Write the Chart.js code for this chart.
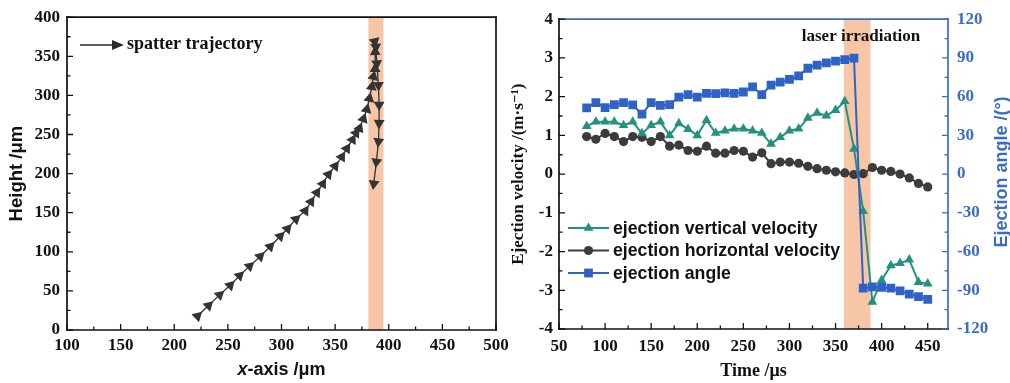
<!DOCTYPE html>
<html>
<head>
<meta charset="utf-8">
<script src="https://cdn.jsdelivr.net/npm/chart.js@4.4.0/dist/chart.umd.min.js"></script>
<style>
  html, body { margin: 0; padding: 0; background: #fff; }
  #wrap { position: relative; width: 1010px; height: 383px; overflow: hidden; }
  #trajChart { position: absolute; left: 0; top: 0; }
  #velChart { position: absolute; left: 505px; top: 0; }
</style>
</head>
<body>
<div id="wrap">
  <canvas id="trajChart" width="515" height="383"></canvas>
  <canvas id="velChart" width="505" height="383"></canvas>
</div>
<script>

// ---------------- DATA ----------------

// left: spatter trajectory (x /um, height /um)
const trajX = [221.7, 232.0, 242.3, 252.2, 260.9, 270.2, 280.1, 289.5, 298.8, 305.6,
  313.4, 322.1, 327.5, 333.0, 338.5, 343.8, 350.0, 356.2, 360.9, 366.2,
  369.6, 372.7, 376.4, 379.5, 382.0, 384.2, 385.7, 387.3, 387.3, 386.9,
  388.0, 388.9, 390.4, 391.0, 391.0, 390.4, 388.5, 386.0];
const trajY = [17.8, 31.3, 44.9, 57.1, 69.4, 81.7, 94.0, 106.7, 119.8, 129.5,
  141.8, 152.4, 164.0, 175.7, 187.0, 199.0, 209.5, 221.4, 232.0, 243.4,
  251.9, 258.0, 270.0, 282.0, 296.0, 311.0, 324.0, 334.0, 355.6, 369.0,
  362.0, 340.8, 313.0, 288.0, 264.6, 241.0, 215.0, 187.0];
const trajXTicks = [100, 150, 200, 250, 300, 350, 400, 450, 500];
const trajYTicks = [0, 50, 100, 150, 200, 250, 300, 350, 400];
const trajBand = [381, 395];

// right: ejection velocities and angle vs time
const timeUs = [80, 90, 100, 110, 120, 130, 140, 150, 160, 170,
  180, 190, 200, 210, 220, 230, 240, 250, 260, 270,
  280, 290, 300, 310, 320, 330, 340, 350, 360, 370,
  380, 390, 400, 410, 420, 430, 440, 450];
const vertVel = [1.24, 1.35, 1.35, 1.35, 1.26, 1.35, 1.05, 1.26, 1.35, 1.00,
  1.31, 1.16, 1.00, 1.39, 1.06, 1.12, 1.17, 1.17, 1.12, 1.06,
  0.78, 0.95, 1.12, 1.17, 1.45, 1.58, 1.51, 1.65, 1.88, 0.65,
  -0.96, -3.30, -2.74, -2.36, -2.30, -2.21, -2.79, -2.83];
const horizVel = [0.97, 0.90, 1.05, 0.97, 0.84, 0.97, 0.95, 0.84, 0.97, 0.72,
  0.75, 0.61, 0.59, 0.72, 0.54, 0.54, 0.61, 0.59, 0.44, 0.55,
  0.27, 0.31, 0.31, 0.28, 0.20, 0.14, 0.10, 0.06, 0.03, -0.01,
  0.01, 0.17, 0.10, 0.07, 0.00, -0.10, -0.24, -0.33];
const ejectAngle = [51.3, 55.4, 51.5, 53.8, 55.4, 53.6, 46.4, 55.4, 53.3, 53.8,
  59.7, 61.5, 59.7, 62.5, 62.3, 63.0, 62.5, 63.6, 67.6, 61.5,
  68.9, 71.2, 73.3, 76.1, 82.0, 84.5, 86.1, 87.6, 88.6, 89.9,
  -88.4, -87.3, -87.8, -88.4, -90.4, -93.0, -95.0, -97.0];
const timeTicks = [50, 100, 150, 200, 250, 300, 350, 400, 450];
const velTicks = [-4, -3, -2, -1, 0, 1, 2, 3, 4];
const angleTicks = [-120, -90, -60, -30, 0, 30, 60, 90, 120];
const timeBand = [359, 388];

const legendLabels = ["ejection vertical velocity", "ejection horizontal velocity", "ejection angle"];


// ---------------- STYLE ----------------

const TEAL = "#23917f";
const GREY = "#3c3c3c";
const BLUE = "#2f62c6";
const AXIS_BLUE = "#3a6cc4";
const BAND = "#f6c6a6";
const SERIF = "'Liberation Serif', 'DejaVu Serif', serif";
const SANS = "'Liberation Sans', Arial, sans-serif";

Chart.defaults.animation = false;
Chart.defaults.plugins.legend.display = false;
Chart.defaults.plugins.tooltip.enabled = false;
Chart.defaults.events = [];


// ---------------- HELPERS ----------------

function fixSize(w, h) {
  return s => {
    if (w != null) s.width = w;
    if (h != null) s.height = h;
  };
}

function useTicks(list) {
  return s => { s.ticks = list.map(v => ({ value: v })); };
}

// shaded laser band
const bandPlugin = {
  id: "band",
  beforeDatasetsDraw(chart, args, opts) {
    const { ctx, chartArea: a } = chart;
    const x0 = chart.scales.x.getPixelForValue(opts.range[0]);
    const x1 = chart.scales.x.getPixelForValue(opts.range[1]);
    ctx.save();
    ctx.fillStyle = BAND;
    ctx.fillRect(x0, a.top, x1 - x0, a.bottom - a.top);
    ctx.restore();
  }
};

// box frame plus inward major/minor ticks
const frameTicks = {
  id: "frameTicks",
  afterDatasetsDraw(chart, args, opts) {
    const { ctx, chartArea: a } = chart;
    ctx.save();
    ctx.lineWidth = 1.7;
    ctx.lineCap = "square";

    const sides = {
      top: [a.left, a.top, a.right, a.top],
      right: [a.right, a.top, a.right, a.bottom],
      bottom: [a.left, a.bottom, a.right, a.bottom],
      left: [a.left, a.top, a.left, a.bottom]
    };
    for (const k in sides) {
      const p = sides[k];
      ctx.strokeStyle = opts.frame[k];
      ctx.beginPath();
      ctx.moveTo(p[0], p[1]);
      ctx.lineTo(p[2], p[3]);
      ctx.stroke();
    }

    ctx.lineWidth = 1.3;
    ctx.lineCap = "butt";
    opts.axes.forEach(ax => {
      const s = chart.scales[ax.id];
      ctx.strokeStyle = opts.frame[ax.side];
      ctx.beginPath();
      for (let v = ax.from; v <= s.max + 1e-9; v += ax.minor) {
        const r = v / ax.major;
        const len = Math.abs(r - Math.round(r)) < 1e-6 ? 6 : 3.5;
        const p = s.getPixelForValue(v);
        if (ax.side === "bottom") { ctx.moveTo(p, a.bottom); ctx.lineTo(p, a.bottom - len); }
        if (ax.side === "left") { ctx.moveTo(a.left, p); ctx.lineTo(a.left + len, p); }
        if (ax.side === "right") { ctx.moveTo(a.right, p); ctx.lineTo(a.right - len, p); }
      }
      ctx.stroke();
    });
    ctx.restore();
  }
};

// triangles point along the direction of travel
function arrowRotation(c) {
  const chart = c.chart;
  const xs = chart.scales.x, ys = chart.scales.y;
  const i = c.dataIndex < trajX.length - 1 ? c.dataIndex : c.dataIndex - 1;
  const dx = xs.getPixelForValue(trajX[i + 1]) - xs.getPixelForValue(trajX[i]);
  const dy = ys.getPixelForValue(trajY[i + 1]) - ys.getPixelForValue(trajY[i]);
  return Math.atan2(dx, -dy) * 180 / Math.PI;
}


// ---------------- TRAJECTORY CHART ----------------

const trajDecor = {
  id: "trajDecor",
  afterDraw(chart) {
    const ctx = chart.ctx;
    ctx.save();

    // legend arrow
    ctx.strokeStyle = "#2a2a2a";
    ctx.fillStyle = "#2a2a2a";
    ctx.lineWidth = 1.5;
    ctx.beginPath();
    ctx.moveTo(80, 45);
    ctx.lineTo(114, 45);
    ctx.stroke();
    ctx.beginPath();
    ctx.moveTo(124, 45);
    ctx.lineTo(112, 40);
    ctx.lineTo(112, 50);
    ctx.closePath();
    ctx.fill();

    ctx.fillStyle = "#111";
    ctx.font = "bold 18px " + SERIF;
    ctx.textBaseline = "middle";
    ctx.fillText("spatter trajectory", 127, 44);

    // x-axis title with italic x
    const cx = (chart.chartArea.left + chart.chartArea.right) / 2;
    ctx.font = "italic bold 18px " + SANS;
    const w1 = ctx.measureText("x").width;
    ctx.font = "bold 18px " + SANS;
    const w2 = ctx.measureText("-axis /\u03bcm").width;
    let x = cx - (w1 + w2) / 2;
    ctx.font = "italic bold 18px " + SANS;
    ctx.fillText("x", x, 370);
    ctx.font = "bold 18px " + SANS;
    ctx.fillText("-axis /\u03bcm", x + w1, 370);

    ctx.restore();
  }
};

new Chart(document.getElementById("trajChart"), {
  type: "scatter",
  data: {
    datasets: [{
      data: trajX.map((x, i) => ({ x: x, y: trajY[i] })),
      showLine: true,
      borderColor: "#333",
      borderWidth: 1.3,
      backgroundColor: "#333",
      pointStyle: "triangle",
      pointRadius: 6.3,
      pointBorderWidth: 0,
      pointRotation: arrowRotation
    }]
  },
  options: {
    responsive: false,
    layout: { padding: { left: 0, right: 19, top: 15, bottom: 0 } },
    scales: {
      x: {
        type: "linear",
        min: 100,
        max: 500,
        afterBuildTicks: useTicks(trajXTicks),
        afterFit: fixSize(null, 53),
        grid: { display: false, drawTicks: false },
        border: { display: false },
        ticks: {
          padding: 5,
          color: "#111",
          autoSkip: false,
          maxRotation: 0,
          font: { family: SERIF, weight: "bold", size: 17 }
        }
      },
      y: {
        min: 0,
        max: 400,
        afterBuildTicks: useTicks(trajYTicks),
        afterFit: fixSize(67, null),
        grid: { display: false, drawTicks: false },
        border: { display: false },
        ticks: {
          padding: 7,
          color: "#111",
          font: { family: SERIF, weight: "bold", size: 17 }
        },
        title: {
          display: true,
          text: "Height /\u03bcm",
          color: "#111",
          padding: { top: 6, bottom: 0 },
          font: { family: SANS, weight: "bold", size: 18.5 }
        }
      }
    },
    plugins: {
      band: { range: trajBand },
      frameTicks: {
        frame: { top: "#111", right: "#111", bottom: "#111", left: "#111" },
        axes: [
          { id: "x", side: "bottom", from: 100, major: 50, minor: 25 },
          { id: "y", side: "left", from: 0, major: 50, minor: 25 }
        ]
      }
    }
  },
  plugins: [bandPlugin, frameTicks, trajDecor]
});


// ---------------- VELOCITY / ANGLE CHART ----------------

const legendStyles = [
  { color: TEAL, pointStyle: "triangle", radius: 5.6 },
  { color: GREY, pointStyle: "circle", radius: 4.6 },
  { color: BLUE, pointStyle: "rect", radius: 6.2 }
];

const velDecor = {
  id: "velDecor",
  afterDraw(chart) {
    const ctx = chart.ctx;
    ctx.save();

    // legend
    const rows = [228, 250.5, 273];
    legendLabels.forEach((label, i) => {
      const st = legendStyles[i];
      const y = rows[i];
      ctx.strokeStyle = st.color;
      ctx.fillStyle = st.color;
      ctx.lineWidth = 2;
      ctx.beginPath();
      ctx.moveTo(63, y);
      ctx.lineTo(104, y);
      ctx.stroke();
      Chart.helpers.drawPoint(ctx, { pointStyle: st.pointStyle, radius: st.radius, rotation: 0, borderWidth: 0 }, 83.5, y);
      ctx.fillStyle = "#111";
      ctx.font = "bold 17.7px " + SANS;
      ctx.textBaseline = "middle";
      ctx.fillText(label, 108, y + 1);
    });

    // band label
    ctx.font = "bold 17px " + SERIF;
    ctx.textAlign = "center";
    ctx.fillText("laser irradiation", 356, 37);

    // right axis title, reading upward
    ctx.translate(497, 172);
    ctx.rotate(-Math.PI / 2);
    ctx.fillStyle = AXIS_BLUE;
    ctx.font = "bold 18px " + SANS;
    ctx.fillText("Ejection angle /(\u00b0)", 0, 0);

    ctx.restore();
  }
};

new Chart(document.getElementById("velChart"), {
  type: "line",
  data: {
    datasets: [
      {
        label: legendLabels[0],
        data: timeUs.map((t, i) => ({ x: t, y: vertVel[i] })),
        borderColor: TEAL,
        backgroundColor: TEAL,
        borderWidth: 2,
        pointStyle: "triangle",
        pointRadius: 5.6,
        pointBorderWidth: 0,
        yAxisID: "y",
        order: 2
      },
      {
        label: legendLabels[1],
        data: timeUs.map((t, i) => ({ x: t, y: horizVel[i] })),
        borderColor: GREY,
        backgroundColor: GREY,
        borderWidth: 2,
        pointStyle: "circle",
        pointRadius: 4.6,
        pointBorderWidth: 0,
        yAxisID: "y",
        order: 3
      },
      {
        label: legendLabels[2],
        data: timeUs.map((t, i) => ({ x: t, y: ejectAngle[i] })),
        borderColor: BLUE,
        backgroundColor: BLUE,
        borderWidth: 2,
        pointStyle: "rect",
        pointRadius: 6.2,
        pointBorderWidth: 0,
        yAxisID: "y2",
        order: 1
      }
    ]
  },
  options: {
    responsive: false,
    layout: { padding: { left: 0, right: 0, top: 15, bottom: 0 } },
    scales: {
      x: {
        type: "linear",
        min: 50,
        max: 472,
        afterBuildTicks: useTicks(timeTicks),
        afterFit: fixSize(null, 54),
        grid: { display: false, drawTicks: false },
        border: { display: false },
        ticks: {
          padding: 7,
          color: "#111",
          autoSkip: false,
          maxRotation: 0,
          font: { family: SERIF, weight: "bold", size: 17 }
        },
        title: {
          display: true,
          text: "Time /\u03bcs",
          color: "#111",
          padding: { top: 0, bottom: 1 },
          font: { family: SERIF, weight: "bold", size: 18 }
        }
      },
      y: {
        position: "left",
        min: -4,
        max: 4,
        afterBuildTicks: useTicks(velTicks),
        afterFit: fixSize(54, null),
        grid: { display: false, drawTicks: false },
        border: { display: false },
        ticks: {
          padding: 6,
          color: "#111",
          font: { family: SERIF, weight: "bold", size: 17 }
        },
        title: {
          display: true,
          text: "Ejection velocity /(m\u00b7s\u207b\u00b9)",
          color: "#111",
          padding: { top: 3, bottom: 0 },
          font: { family: SERIF, weight: "bold", size: 17 }
        }
      },
      y2: {
        position: "right",
        min: -120,
        max: 120,
        afterBuildTicks: useTicks(angleTicks),
        afterFit: fixSize(62, null),
        grid: { display: false, drawTicks: false },
        border: { display: false },
        ticks: {
          padding: 9,
          color: AXIS_BLUE,
          font: { family: SERIF, weight: "bold", size: 17 }
        }
      }
    },
    plugins: {
      band: { range: timeBand },
      frameTicks: {
        frame: { top: AXIS_BLUE, right: AXIS_BLUE, bottom: "#111", left: "#111" },
        axes: [
          { id: "x", side: "bottom", from: 50, major: 50, minor: 25 },
          { id: "y", side: "left", from: -4, major: 1, minor: 0.5 },
          { id: "y2", side: "right", from: -120, major: 30, minor: 15 }
        ]
      }
    }
  },
  plugins: [bandPlugin, frameTicks, velDecor]
});

</script>
</body>
</html>
